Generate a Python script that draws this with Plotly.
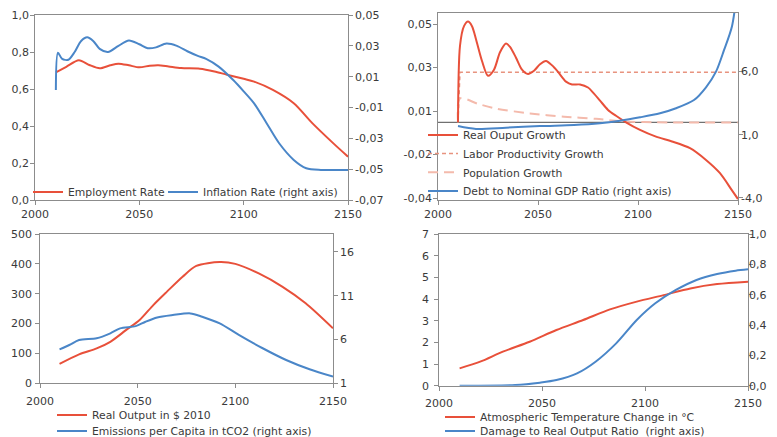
import plotly.graph_objects as go

# ---------------- data ----------------
# Panel 1: employment rate (left) and inflation rate (right)
emp_years = [2010, 2015, 2021, 2026, 2031, 2036, 2040, 2045, 2050, 2055, 2059, 2064, 2070,
             2079, 2086, 2092, 2100, 2105, 2114, 2124, 2133, 2143, 2150]
emp_rate = [0.69, 0.72, 0.755, 0.73, 0.712, 0.728, 0.737, 0.728, 0.717, 0.726, 0.729, 0.722,
            0.713, 0.71, 0.695, 0.677, 0.655, 0.64, 0.595, 0.523, 0.414, 0.306, 0.234]
infl_years = [2010, 2011, 2013, 2016, 2019, 2022, 2025, 2028, 2031, 2035, 2040, 2045, 2050,
              2054, 2058, 2063, 2068, 2073, 2078, 2082, 2088, 2095, 2100, 2105, 2111, 2117,
              2124, 2130, 2137, 2150]
infl_rate = [0.0014, 0.0255, 0.0215, 0.021, 0.026, 0.033, 0.0355, 0.033, 0.028, 0.026, 0.030,
             0.0335, 0.031, 0.0285, 0.029, 0.0315, 0.030, 0.0265, 0.0235, 0.0215, 0.0165,
             0.0078, 0.0005, -0.0073, -0.0202, -0.0332, -0.044, -0.0494, -0.0505, -0.0505]

# Panel 2: growth rates (left) and debt ratio (right)
gdp_years = [2010, 2011, 2013, 2015, 2017, 2019, 2022, 2025, 2028, 2031, 2034, 2036, 2039,
             2042, 2045, 2048, 2051, 2054, 2057, 2060, 2064, 2067, 2071, 2075, 2078, 2081,
             2085, 2089, 2094, 2101, 2109, 2117, 2126, 2134, 2141, 2147, 2150]
gdp_growth = [0.0048, 0.040, 0.049, 0.0511, 0.049, 0.043, 0.033, 0.0262, 0.029, 0.037, 0.041,
              0.0395, 0.0345, 0.029, 0.027, 0.0285, 0.0315, 0.033, 0.031, 0.028, 0.0235,
              0.0222, 0.0222, 0.0208, 0.018, 0.0148, 0.0105, 0.0078, 0.0048, 0.0013,
              -0.0018, -0.004, -0.0071, -0.0125, -0.0186, -0.0265, -0.0305]
prod_years = [2010, 2011, 2150]
prod_growth = [0.0048, 0.0278, 0.0278]
pop_years = [2010, 2011, 2020, 2029, 2046, 2063, 2079, 2093, 2109, 2150]
pop_growth = [0.0048, 0.0158, 0.0133, 0.0111, 0.0089, 0.0074, 0.0064, 0.0052, 0.0048, 0.0047]
debt_years = [2010, 2019, 2034, 2051, 2068, 2081, 2091, 2101, 2111, 2119, 2128, 2134, 2139,
              2143, 2147, 2150]
debt_ratio = [1.69, 1.46, 1.56, 1.69, 1.77, 1.91, 2.11, 2.38, 2.7, 3.1, 3.75, 4.76, 6.0, 7.7,
              9.6, 13.0]
p2_axis_cross = 0.0048

# Panel 3: real output (left) and emissions per capita (right)
out_years = [2010, 2020, 2029, 2036, 2044, 2051, 2058, 2065, 2073, 2080, 2092, 2100, 2112,
             2124, 2136, 2150]
real_output = [65, 97, 117, 139, 178, 212, 262, 307, 357, 393, 406, 400, 368, 324, 268, 184]
em_years = [2010, 2015, 2020, 2029, 2036, 2041, 2049, 2054, 2060, 2068, 2077, 2083, 2092,
            2102, 2114, 2126, 2138, 2150]
emissions = [4.87, 5.37, 5.94, 6.13, 6.7, 7.27, 7.53, 8.03, 8.52, 8.79, 8.98, 8.6, 7.84, 6.5,
             5.0, 3.66, 2.6, 1.76]

# Panel 4: temperature change (left) and damage ratio (right)
temp_years = [2010, 2020, 2031, 2044, 2057, 2070, 2083, 2096, 2109, 2122, 2135, 2150]
temp_change = [0.8, 1.11, 1.57, 2.03, 2.57, 3.03, 3.52, 3.88, 4.18, 4.49, 4.69, 4.8]
dmg_years = [2010, 2037, 2049, 2057, 2067, 2076, 2086, 2096, 2105, 2115, 2125, 2135, 2144, 2150]
damage = [0.0, 0.004, 0.02, 0.037, 0.081, 0.158, 0.279, 0.433, 0.543, 0.631, 0.697, 0.736,
          0.758, 0.767]

# Tick labels
x_ticks = [2000, 2050, 2100, 2150]
x_text = ["2000", "2050", "2100", "2150"]
p1_left_ticks = [0, 0.2, 0.4, 0.6, 0.8, 1.0]
p1_left_text = ["0,0", "0,2", "0,4", "0,6", "0,8", "1,0"]
p1_right_ticks = [-0.07, -0.05, -0.03, -0.01, 0.01, 0.03, 0.05]
p1_right_text = ["-0,07", "-0,05", "-0,03", "-0,01", "0,01", "0,03", "0,05"]
p2_left_ticks = [0.05, 0.03, 0.01, -0.01, -0.03]
p2_left_text = ["0,05", "0,03", "0,01", "-0,02", "-0,04"]
p2_right_ticks = [6, 1, -4]
p2_right_text = ["6,0", "1,0", "-4,0"]
p3_left_ticks = [0, 100, 200, 300, 400, 500]
p3_left_text = ["0", "100", "200", "300", "400", "500"]
p3_right_ticks = [1, 6, 11, 16]
p3_right_text = ["1", "6", "11", "16"]
p4_left_ticks = [0, 1, 2, 3, 4, 5, 6, 7]
p4_left_text = ["0", "1", "2", "3", "4", "5", "6", "7"]
p4_right_ticks = [0, 0.2, 0.4, 0.6, 0.8, 1.0]
p4_right_text = ["0,0", "0,2", "0,4", "0,6", "0,8", "1,0"]

# ---------------- styling ----------------
W, H = 777, 437
RED = "#E8503A"
BLUE = "#4A86C8"
SALMON = "#E8937F"
PINK = "#F4BAAC"
AXIS = "#8C8C8C"
TXT = "#3A3A3A"
FONT = "DejaVu Sans"
GAP_L, GAP_R = 2, 4  # approx. px between a label-only axis position and its labels

def dom_x(a, b):
    return [a / W, b / W]

def dom_y(top, bottom):
    return [1 - bottom / H, 1 - top / H]

fig = go.Figure()

def add(x, y, xa, ya, name, color, leg, width=2, dash="solid", shape="spline"):
    fig.add_trace(go.Scatter(
        x=x, y=y, xaxis=xa, yaxis=ya, name=name, mode="lines",
        line=dict(color=color, width=width, dash=dash, shape=shape, smoothing=0.8),
        legend=leg, showlegend=True))

add(emp_years, emp_rate, "x", "y", "Employment Rate", RED, "legend")
add(infl_years, infl_rate, "x", "y2", "Inflation Rate (right axis)", BLUE, "legend2")
add(prod_years, prod_growth, "x2", "y3", "Labor Productivity Growth", SALMON, "legend4",
    width=1.5, dash="4px,3px", shape="linear")
add(pop_years, pop_growth, "x2", "y3", "Population Growth", PINK, "legend5",
    width=2, dash="10px,6px")
add(debt_years, debt_ratio, "x2", "y4", "Debt to Nominal GDP Ratio (right axis)", BLUE, "legend6")
add(gdp_years, gdp_growth, "x2", "y3", "Real Ouput Growth", RED, "legend3")
add(out_years, real_output, "x3", "y5", "Real Output in $ 2010", RED, "legend7")
add(em_years, emissions, "x3", "y6", "Emissions per Capita in tCO2 (right axis)", BLUE, "legend8")
add(temp_years, temp_change, "x4", "y7", "Atmospheric Temperature Change in °C", RED, "legend9")
add(dmg_years, damage, "x4", "y8", "Damage to Real Output Ratio  (right axis)", BLUE, "legend10")

# empty carrier traces so that the label-only axes get drawn
for xa, ya in [("x", "y9"), ("x", "y10"), ("x2", "y11"), ("x2", "y12"),
               ("x3", "y13"), ("x3", "y14"), ("x4", "y15"), ("x4", "y16")]:
    fig.add_trace(go.Scatter(x=[], y=[], xaxis=xa, yaxis=ya, mode="lines",
                             showlegend=False, hoverinfo="skip"))

tickfont = dict(family=FONT, size=11, color=TXT)

def xaxis(domain, anchor, standoff):
    return dict(domain=domain, anchor=anchor, range=[2000, 2150], tickvals=x_ticks,
                ticktext=x_text, showline=True, mirror=True, linecolor=AXIS, linewidth=1,
                ticks="outside", ticklen=4, tickcolor=AXIS, showgrid=False, zeroline=False,
                tickfont=tickfont, automargin=False, fixedrange=True,
                ticklabelstandoff=standoff)

def yleft(domain, anchor, rng, tv):
    return dict(domain=domain, anchor=anchor, range=rng, tickvals=tv, showticklabels=False,
                showline=True, mirror=True, linecolor=AXIS, linewidth=1, ticks="outside",
                ticklen=4, tickcolor=AXIS, showgrid=False, zeroline=False, automargin=False)

def yright(over, anchor, rng, tv):
    return dict(overlaying=over, anchor=anchor, side="right", range=rng, tickvals=tv,
                showticklabels=False, showline=True, linecolor=AXIS, linewidth=1,
                ticks="outside", ticklen=4, tickcolor=AXIS, showgrid=False, zeroline=False,
                automargin=False)

def ylabels(over, side, edge_px, rng, tv, tt):
    # label-only axis; edge_px = right edge (left side) / left edge (right side) of labels
    pos = (edge_px + GAP_L) / W if side == "left" else (edge_px - GAP_R) / W
    return dict(overlaying=over, anchor="free", position=pos, side=side, range=rng,
                tickvals=tv, ticktext=tt, showline=False, ticks="", showgrid=False,
                zeroline=False, tickfont=tickfont, automargin=False)

d1x, d1y = dom_x(35, 348), dom_y(15, 200)
d2x, d2y = dom_x(438, 738), dom_y(13, 200)
d3x, d3y = dom_x(40, 333), dom_y(234, 383.3)
d4x, d4y = dom_x(439, 748), dom_y(234, 385.7)

p1_left_rng, p1_right_rng = [0, 1.0], [-0.07, 0.05]
p2_left_rng = [0.05 - (200 - 24) / 2175, 0.05 + (24 - 13) / 2175]
p2_right_rng = [(147.4 - 200) / 12.63, (147.4 - 13) / 12.63]
p3_left_rng, p3_right_rng = [0, 500], [1, 18.04]
p4_left_rng, p4_right_rng = [0, 7], [0, 1.0]

layout = dict(
    width=W, height=H, autosize=False,
    margin=dict(l=0, r=0, t=0, b=0, pad=0, autoexpand=False),
    paper_bgcolor="white", plot_bgcolor="white",
    font=dict(family=FONT, size=11, color=TXT),
    xaxis=xaxis(d1x, "y", 0),
    yaxis=yleft(d1y, "x", p1_left_rng, p1_left_ticks),
    yaxis2=yright("y", "x", p1_right_rng, p1_right_ticks),
    xaxis2=xaxis(d2x, "y3", 0),
    yaxis3=yleft(d2y, "x2", p2_left_rng, p2_left_ticks),
    yaxis4=yright("y3", "x2", p2_right_rng, p2_right_ticks),
    xaxis3=xaxis(d3x, "y5", 3),
    yaxis5=yleft(d3y, "x3", p3_left_rng, p3_left_ticks),
    yaxis6=yright("y5", "x3", p3_right_rng, p3_right_ticks),
    xaxis4=xaxis(d4x, "y7", 3),
    yaxis7=yleft(d4y, "x4", p4_left_rng, p4_left_ticks),
    yaxis8=yright("y7", "x4", p4_right_rng, p4_right_ticks),
    # label-only axes
    yaxis9=ylabels("y", "left", 27, p1_left_rng, p1_left_ticks, p1_left_text),
    yaxis10=ylabels("y", "right", 358, p1_right_rng, p1_right_ticks, p1_right_text),
    yaxis11=ylabels("y3", "left", 430, p2_left_rng, p2_left_ticks, p2_left_text),
    yaxis12=ylabels("y3", "right", 744, p2_right_rng, p2_right_ticks, p2_right_text),
    yaxis13=ylabels("y5", "left", 30, p3_left_rng, p3_left_ticks, p3_left_text),
    yaxis14=ylabels("y5", "right", 343, p3_right_rng, p3_right_ticks, p3_right_text),
    yaxis15=ylabels("y7", "left", 427, p4_left_rng, p4_left_ticks, p4_left_text),
    yaxis16=ylabels("y7", "right", 752, p4_right_rng, p4_right_ticks, p4_right_text),
    shapes=[dict(type="line", xref="x2 domain", x0=0, x1=1, yref="y3",
                 y0=p2_axis_cross, y1=p2_axis_cross, line=dict(color="#4D4D4D", width=1),
                 layer="below")],
)

# legend positions: (text start x px, center y px)
legend_pos = {
    "legend": (68, 192), "legend2": (203, 192),
    "legend3": (463, 135), "legend4": (463, 153.5), "legend5": (463, 172.3),
    "legend6": (463, 191),
    "legend7": (92, 415), "legend8": (92, 431),
    "legend9": (480, 417), "legend10": (480, 431),
}
for key, (tx, ty) in legend_pos.items():
    layout[key] = dict(x=(tx - 40) / W, y=1 - ty / H, xanchor="left", yanchor="middle",
                       bgcolor="rgba(0,0,0,0)", borderwidth=0, itemwidth=30,
                       font=dict(family=FONT, size=10.8, color=TXT))

fig.update_layout(**layout)
fig.write_html("out.html",
               config={"displayModeBar": False},
               post_script="document.body.style.margin='0';"
                           "document.body.style.overflow='hidden';")
